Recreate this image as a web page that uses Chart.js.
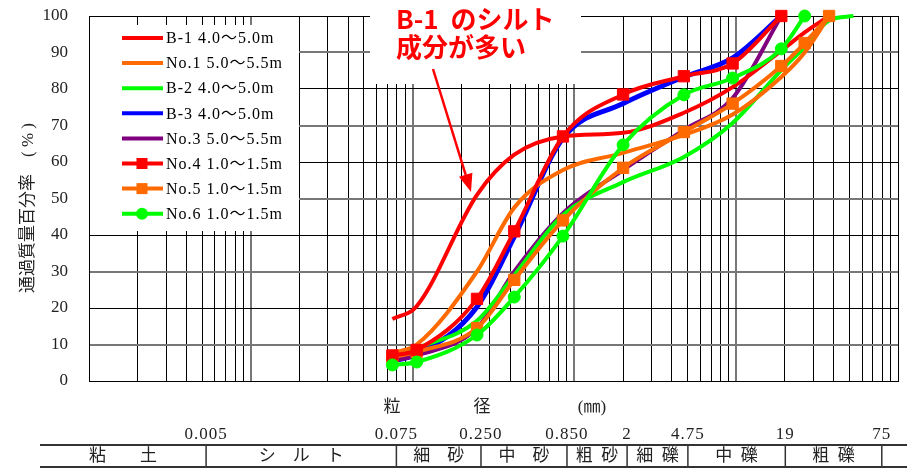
<!DOCTYPE html>
<html><head><meta charset="utf-8">
<script src="https://cdn.jsdelivr.net/npm/chart.js@4/dist/chart.umd.min.js"></script>
<style>html,body{margin:0;padding:0;background:#fff;overflow:hidden}#wrap{width:907px;height:471px;position:relative}</style>
</head><body><div id="wrap"><canvas id="c" width="907" height="471"></canvas></div>
<script>
// ---- data ----
const sieveSizes = [0.075, 0.106, 0.25, 0.425, 0.85, 2, 4.75, 9.5, 19, 26.5, 37.5, 53];
const seriesLabels = ['B-1 4.0～5.0m','No.1 5.0～5.5m','B-2 4.0～5.0m','B-3 4.0～5.0m','No.3 5.0～5.5m','No.4 1.0～1.5m','No.5 1.0～1.5m','No.6 1.0～1.5m'];
const b1  = [17, 20.5, 51, 62, 67, 68, 73.5, 80.5, 90.5, 95.5, 100];
const no1 = [7.7, 10, 30, 47.5, 57.8, 62.5, 67.4, 73, 83.3, 90, 100];
const b2  = [6.5, 9, 16.5, 29, 45.5, 54.5, 61.4, 70.7, 85.2, 91.5, 98.8, 100];
const b3  = [5.5, 7.3, 20.3, 39.5, 66.5, 76, 83.3, 88.5, 100];
const no3 = [5.5, 7, 14.5, 30, 46, 57.8, 68.8, 77.5, 100];
const no4 = [7, 8.5, 22.5, 41, 67, 78.5, 83.5, 87, 100];
const no5 = [6.5, 8, 14.5, 27.7, 44, 58.4, 68.2, 76, 86.3, 92.6, 100];
const no6 = [4.4, 5.2, 12.6, 23, 39.7, 64.7, 78.4, 83, 91, 100];
const yTickValues = [0, 10, 20, 30, 40, 50, 60, 70, 80, 90, 100];
const boundarySizes  = [0.005, 0.075, 0.25, 0.85, 2, 4.75, 19, 75];
const boundaryLabels = ['0.005', '0.075', '0.250', '0.850', '2', '4.75', '19', '75'];
const soilClasses = ['粘　　土', 'シ　ル　ト', '細　砂', '中　砂', '粗  砂', '細  礫', '中  礫', '粗  礫'];
const yTitle = '通過質量百分率　( % )';
const xTitleParts = ['粒', '径', '(㎜)'];
const noteLines = ['B-1  のシルト', '成分が多い'];

// ---- build ----
const toPts = arr => arr.map((v, i) => ({x: sieveSizes[i], y: v}));
const serifFont = "'Liberation Serif', 'Noto Sans CJK JP'";
function ds(label, arr, color, style, order, width) {
  return {
    label, data: toPts(arr), borderColor: color, backgroundColor: color,
    borderWidth: width || 4, pointStyle: style || 'circle',
    pointRadius: style === 'rect' ? 8 : (style === 'circle' ? 6 : 0),
    pointBorderWidth: 1, pointBorderColor: color,
    cubicInterpolationMode: 'monotone', clip: false, order, _marker: style || null
  };
}
const datasets = [
  ds(seriesLabels[0], b1,  '#ff0000', null, 3),
  ds(seriesLabels[1], no1, '#ff6a00', null, 4),
  ds(seriesLabels[2], b2,  '#00ff00', null, 5),
  ds(seriesLabels[3], b3,  '#0000ff', null, 7, 5),
  ds(seriesLabels[4], no3, '#800080', null, 6),
  ds(seriesLabels[5], no4, '#ff0000', 'rect', 1),
  ds(seriesLabels[6], no5, '#ff6a00', 'rect', 2),
  ds(seriesLabels[7], no6, '#00ff00', 'circle', 0)
];
datasets.forEach(d => { if (!d._marker) d.pointRadius = 0; });

const xGridValues = [];
for (let e = -3; e <= 1; e++) for (let d = 1; d <= 9; d++) xGridValues.push(Number((d * Math.pow(10, e)).toPrecision(3)));
xGridValues.push(100);
const isInnerDecade = v => Math.abs(Math.log10(v) % 1) < 1e-6 && v !== 100 && v !== 0.001;

const overlay = {
  id: 'overlay',
  beforeDatasetsDraw(chart) {
    const ctx = chart.ctx;
    ctx.save();
    ctx.fillStyle = '#fff';
    ctx.fillRect(90, 25, 209, 206);   // legend box
    ctx.fillRect(370, 0, 211, 84);    // note box
    ctx.restore();
  },
  afterDraw(chart) {
    const ctx = chart.ctx;
    const xs = chart.scales.x;
    ctx.save();
    // legend
    ctx.textBaseline = 'middle';
    ctx.textAlign = 'left';
    ctx.font = "16px " + serifFont;
    try { ctx.letterSpacing = '1px'; } catch (e) {}
    chart.data.datasets.forEach((d, i) => {
      const y = 38 + i * 25.1;
      ctx.strokeStyle = d.borderColor; ctx.lineWidth = 4;
      ctx.beginPath(); ctx.moveTo(122, y); ctx.lineTo(163, y); ctx.stroke();
      ctx.fillStyle = d.borderColor;
      if (d._marker === 'rect') ctx.fillRect(136.5, y - 5.5, 11, 11);
      else if (d._marker === 'circle') { ctx.beginPath(); ctx.arc(142, y, 6, 0, Math.PI * 2); ctx.fill(); }
      ctx.fillStyle = '#000';
      ctx.fillText(d.label, 166, y + 1);
    });
    try { ctx.letterSpacing = '0px'; } catch (e) {}
    // note text
    ctx.fillStyle = '#ff0000';
    ctx.font = "bold 26px 'Noto Sans CJK JP'";
    ctx.fillText(noteLines[0], 396, 19);
    ctx.fillText(noteLines[1], 396, 47);
    // arrow
    const x0 = 433, y0 = 69, tx = 471, ty = 192;
    const len = Math.hypot(tx - x0, ty - y0), ux = (tx - x0) / len, uy = (ty - y0) / len;
    const bx = tx - ux * 18, by = ty - uy * 18;
    ctx.strokeStyle = '#ff0000'; ctx.lineWidth = 2.5;
    ctx.beginPath(); ctx.moveTo(x0, y0); ctx.lineTo(bx, by); ctx.stroke();
    ctx.beginPath(); ctx.moveTo(tx, ty);
    ctx.lineTo(bx + uy * 7, by - ux * 7); ctx.lineTo(bx - uy * 7, by + ux * 7); ctx.closePath(); ctx.fill();
    // y title
    ctx.fillStyle = '#222';
    ctx.font = "17px " + serifFont;
    ctx.save(); ctx.translate(33, 293); ctx.rotate(-Math.PI / 2);
    ctx.textAlign = 'left'; ctx.textBaseline = 'alphabetic';
    ctx.fillText(yTitle, 0, 0); ctx.restore();
    // x title
    ctx.textAlign = 'center'; ctx.textBaseline = 'middle';
    const xtPos = [392, 482, 592];
    xTitleParts.forEach((t, i) => ctx.fillText(t, xtPos[i], 408));
    // boundary labels + table
    const bpx = boundarySizes.map(v => xs.getPixelForValue(v) + 4);
    try { ctx.letterSpacing = '1px'; } catch (e) {}
    boundaryLabels.forEach((t, i) => ctx.fillText(t, bpx[i], 435));
    try { ctx.letterSpacing = '0px'; } catch (e) {}
    ctx.strokeStyle = '#333'; ctx.lineWidth = 2;
    ctx.beginPath(); ctx.moveTo(40, 445); ctx.lineTo(907, 445); ctx.moveTo(40, 467); ctx.lineTo(907, 467); ctx.stroke();
    ctx.lineWidth = 1.5;
    ctx.beginPath();
    bpx.forEach(x => { ctx.moveTo(x, 445); ctx.lineTo(x, 467); });
    ctx.stroke();
    const edges = [40].concat(bpx);
    soilClasses.forEach((t, i) => ctx.fillText(t, (edges[i] + edges[i + 1]) / 2, 457));
    ctx.restore();
  }
};

new Chart(document.getElementById('c'), {
  type: 'line',
  data: { datasets },
  options: {
    responsive: false, devicePixelRatio: 1, animation: false,
    layout: { padding: { left: 0, right: 8, top: 16, bottom: 0 } },
    plugins: { legend: { display: false }, tooltip: { enabled: false }, title: { display: false } },
    scales: {
      x: {
        type: 'logarithmic', min: 0.001, max: 100,
        afterBuildTicks: a => { a.ticks = xGridValues.map(v => ({ value: v })); },
        afterFit: a => { a.height = 90; a.paddingLeft = 0; a.paddingRight = 0; },
        ticks: { display: false },
        grid: {
          drawTicks: false,
          color: c => isInnerDecade(c.tick.value) ? '#777' : '#000',
          lineWidth: c => isInnerDecade(c.tick.value) ? 2 : 1
        },
        border: { display: true, color: '#000', width: 1 }
      },
      y: {
        min: 0, max: 100,
        afterBuildTicks: a => { a.ticks = yTickValues.map(v => ({ value: v })); },
        afterFit: a => { a.width = 89; a.paddingTop = 0; a.paddingBottom = 0; },
        ticks: { color: '#222', font: { family: serifFont, size: 17 }, padding: 21 },
        grid: {
          drawTicks: false,
          color: c => (c.tick.value % 20 === 0) ? '#000' : '#777',
          lineWidth: c => (c.tick.value % 20 === 0) ? 1 : 2
        },
        border: { display: true, color: '#000', width: 1 }
      }
    }
  },
  plugins: [overlay]
});
</script>
</body></html>
